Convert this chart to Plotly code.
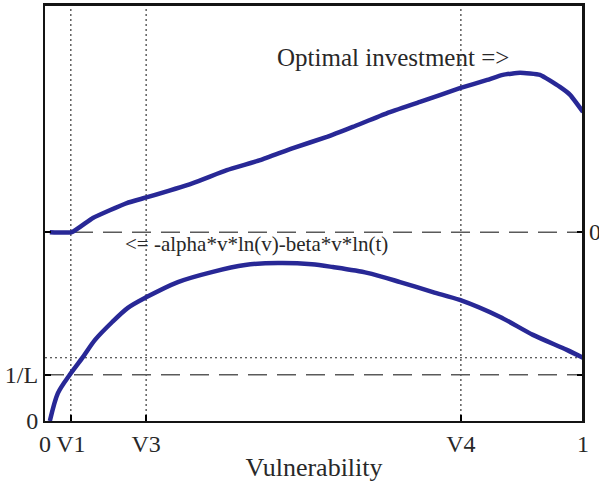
import plotly.graph_objects as go

# Marker positions on the vulnerability axis
v_ticks = [0.0, 0.048, 0.188, 0.773, 1.0]
v_tick_labels = ["0", "V1", "V3", "V4", "1"]
v_markers = [0.048, 0.188, 0.773]

# Horizontal reference levels (normalised axis units)
inv_L = 0.111
dotted_level = 0.152
upper_zero = 0.454

# Lower curve: -alpha*v*ln(v) - beta*v*ln(t)
lower_v = [0.009, 0.024, 0.046, 0.069, 0.093, 0.125, 0.154, 0.186, 0.247, 0.310,
           0.372, 0.433, 0.496, 0.535, 0.599, 0.660, 0.721, 0.771, 0.846, 0.907,
           0.970, 1.0]
lower_y = [0.0, 0.067, 0.111, 0.151, 0.195, 0.238, 0.272, 0.296, 0.334, 0.358,
           0.375, 0.380, 0.377, 0.370, 0.356, 0.334, 0.310, 0.291, 0.250, 0.207,
           0.171, 0.152]

# Upper curve: optimal investment (offset so its zero sits at upper_zero)
upper_v = [0.009, 0.050, 0.089, 0.152, 0.190, 0.275, 0.338, 0.400, 0.461, 0.524,
           0.572, 0.636, 0.697, 0.771, 0.822, 0.851, 0.883, 0.920, 0.957, 0.976, 1.0]
upper_y = [0.454, 0.454, 0.488, 0.524, 0.538, 0.572, 0.603, 0.627, 0.656, 0.683,
           0.707, 0.740, 0.767, 0.800, 0.820, 0.832, 0.837, 0.832, 0.803, 0.784, 0.743]

FONT = "Liberation Serif, Times New Roman, serif"
CURVE = "rgb(40,40,150)"
GRAY = "rgb(90,90,90)"
FRAME = "rgb(20,20,20)"

fig = go.Figure()

# vertical dotted lines
for v in v_markers:
    fig.add_trace(go.Scatter(x=[v, v], y=[0, 1], mode="lines",
                             line=dict(color="rgb(70,70,70)", width=1.3, dash="2px,3px"),
                             hoverinfo="skip", showlegend=False))

# horizontal dashed lines
for lvl in [inv_L, upper_zero]:
    fig.add_trace(go.Scatter(x=[0, 1], y=[lvl, lvl], mode="lines",
                             line=dict(color=GRAY, width=1.5, dash="19px,10px"),
                             hoverinfo="skip", showlegend=False))
# horizontal dotted line
fig.add_trace(go.Scatter(x=[0, 1], y=[dotted_level, dotted_level], mode="lines",
                         line=dict(color="rgb(40,40,40)", width=1.2, dash="2px,3px"),
                         hoverinfo="skip", showlegend=False))

fig.add_trace(go.Scatter(x=lower_v, y=lower_y, mode="lines",
                         line=dict(color=CURVE, width=4.5, shape="spline", smoothing=0.8),
                         showlegend=False))
fig.add_trace(go.Scatter(x=upper_v, y=upper_y, mode="lines",
                         line=dict(color=CURVE, width=4.5, shape="spline", smoothing=0.4),
                         showlegend=False))

fig.add_annotation(x=0.4275, y=0.873, xref="x", yref="y", text="Optimal investment =>",
                   showarrow=False, xanchor="left", yanchor="middle",
                   font=dict(family=FONT, size=25, color="rgb(40,40,40)"))
fig.add_annotation(x=0.145, y=0.425, xref="x", yref="y",
                   text="<= -alpha*v*ln(v)-beta*v*ln(t)",
                   showarrow=False, xanchor="left", yanchor="middle",
                   font=dict(family=FONT, size=21, color="rgb(40,40,40)"))
# right-hand zero label of the upper curve's scale
fig.add_annotation(x=1, y=upper_zero, xref="x domain", yref="y", text="0",
                   showarrow=False, xanchor="left", yanchor="middle", xshift=4,
                   font=dict(family=FONT, size=24, color="rgb(40,40,40)"))

# plot frame (top and right sides), paper-referenced so they are not clipped
fig.add_shape(type="line", xref="paper", yref="paper", x0=0, x1=1, y0=1, y1=1,
              line=dict(color=FRAME, width=2), layer="above")
fig.add_shape(type="line", xref="paper", yref="paper", x0=1, x1=1, y0=0, y1=1,
              line=dict(color=FRAME, width=2), layer="above")

fig.update_layout(
    width=599, height=487,
    margin=dict(l=45, r=16, t=5, b=66),
    paper_bgcolor="white", plot_bgcolor="white",
    font=dict(family=FONT, size=24, color="rgb(40,40,40)"),
    xaxis=dict(range=[0, 1], tickvals=v_ticks, ticktext=v_tick_labels,
               ticks="inside", ticklen=6, tickcolor="black", tickwidth=1.5,
               showgrid=False, zeroline=False, showline=True, linecolor=FRAME,
               linewidth=2, mirror=True, automargin=False,
               title=dict(text="Vulnerability", font=dict(size=26), standoff=2)),
    yaxis=dict(range=[0, 1], tickvals=[0, inv_L, upper_zero], ticktext=["0", "1/L", ""],
               ticks="inside", ticklen=6, tickcolor="black", tickwidth=1.5,
               showgrid=False, zeroline=False, showline=True, linecolor=FRAME,
               linewidth=2, mirror="ticks", automargin=False),
)

fig.write_html("out.html", config={"displayModeBar": False})

# remove the browser's default page margin so the figure sits at the window origin
with open("out.html", "r", encoding="utf-8") as f:
    html = f.read()
html = html.replace("<head>", "<head><style>html,body{margin:0;padding:0;overflow:hidden;}</style>", 1)
with open("out.html", "w", encoding="utf-8") as f:
    f.write(html)
